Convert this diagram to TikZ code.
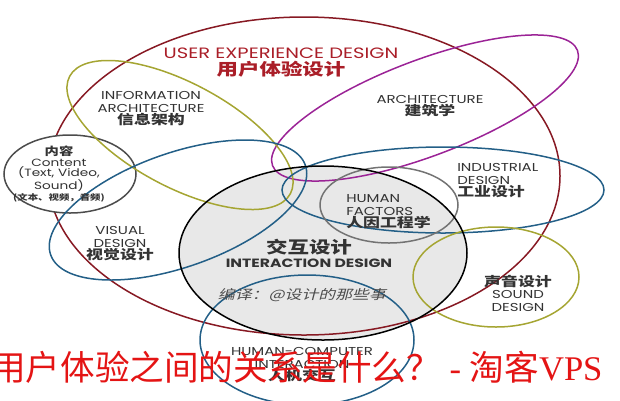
\documentclass[tikz,border=0pt]{standalone}
\usepackage{fontspec}
\setmainfont{Poppins}
\newfontfamily\cjk{Noto Sans CJK SC}
\newfontfamily\cjkit[FakeSlant=0.2]{Noto Sans CJK SC}
\newfontfamily\wmserif{Liberation Serif}
\usetikzlibrary{positioning}
\definecolor{uxred}{RGB}{135,25,35}
\definecolor{uxtext}{RGB}{170,30,40}
\definecolor{archpur}{RGB}{155,35,150}
\definecolor{iaolive}{RGB}{165,165,50}
\definecolor{dsblue}{RGB}{35,95,135}
\definecolor{ixgray}{RGB}{232,232,232}
\definecolor{wmred}{RGB}{228,20,20}
\tikzset{x=1pt, y=-1pt,
ring/.style={line width=1.5pt},
lab/.style={align=center, inner sep=0pt, transform shape, xscale=1.3,
  text=black!80, font=\fontsize{11.5}{12.5}\selectfont},
%wm/.style={text=wmred},
}
\newcommand{\zh}[2][13]{{\cjk\bfseries\fontsize{#1}{#1}\selectfont #2}}

\begin{document}
\begin{tikzpicture}
\useasboundingbox (0,0) rectangle (620,400);
\fill[ixgray] (323,253) ellipse [x radius=144pt, y radius=87pt];
\draw[ring, uxred] (304,176) ellipse [x radius=256pt, y radius=159pt];
\draw[ring, black!70, fill=white] (70,174) ellipse [x radius=66pt, y radius=39pt];
\draw[ring, archpur, rotate around={20.7:(425,108)}] (425,108) ellipse [x radius=163pt, y radius=48pt];
\draw[ring, iaolive, rotate around={-28:(180,135)}] (180,135) ellipse [x radius=125pt, y radius=52pt];
\draw[ring, dsblue, rotate around={19.4:(178,210)}] (178,210) ellipse [x radius=135pt, y radius=57pt];
\draw[ring, dsblue] (443,190) ellipse [x radius=161pt, y radius=43pt];
\draw[ring, black!55] (389,205) ellipse [x radius=69pt, y radius=38pt];
\draw[ring, dsblue] (307,340) ellipse [x radius=107pt, y radius=65pt];
\draw[ring, iaolive] (496,277) ellipse [x radius=83pt, y radius=50pt];
\draw[ring, black] (323,253) ellipse [x radius=144pt, y radius=87pt];

\node[lab, text=uxtext, font=\fontsize{15}{17}\selectfont] (ux) at (281,63)
  {USER EXPERIENCE DESIGN\\\zh[16.5]{用户体验设计}};
\node[lab] (ia) at (151,109) {INFORMATION\\ARCHITECTURE\\\zh{信息架构}};
\node[lab] (ar) at (430,106) {ARCHITECTURE\\\zh{建筑学}};
\node[lab, anchor=west, align=left] (id) at (457,181) {INDUSTRIAL\\DESIGN\\\zh{工业设计}};
\node[lab, anchor=west, align=left] (hf) at (346,212) {HUMAN\\FACTORS\\\zh{人因工程学}};
\node[lab, font=\bfseries\fontsize{12}{14}\selectfont] (ix) at (309,253)
  {\zh[16.5]{交互设计}\\INTERACTION DESIGN};
\node[lab, text=black!70, font=\cjkit\fontsize{13}{14}\selectfont] (tr) at (302,295) {编译：@设计的那些事};
\node[lab, font=\fontsize{10.5}{10.5}\selectfont] (ct) at (59,174)
  {\zh[11]{内容}\\Content\\(Text, Video,\\Sound)\\\zh[8]{(文本、视频，音频)}};
\node[lab] (vd) at (120,244) {VISUAL\\DESIGN\\\zh{视觉设计}};
\node[lab] (sd) at (518,293) {\zh{声音设计}\\SOUND\\DESIGN};
\node[lab] (hc) at (302,365) {HUMAN-COMPUTER\\INTERACTION\\\zh{人机交互}};

\node[anchor=west, inner sep=0pt, text=wmred, font=\cjk\fontsize{34.6}{36}\selectfont] (wm) at (-9,367)
  {用户体验之间的关系是什么？{\wmserif\ -\ }淘客{\wmserif VPS}};
\end{tikzpicture}
\end{document}
